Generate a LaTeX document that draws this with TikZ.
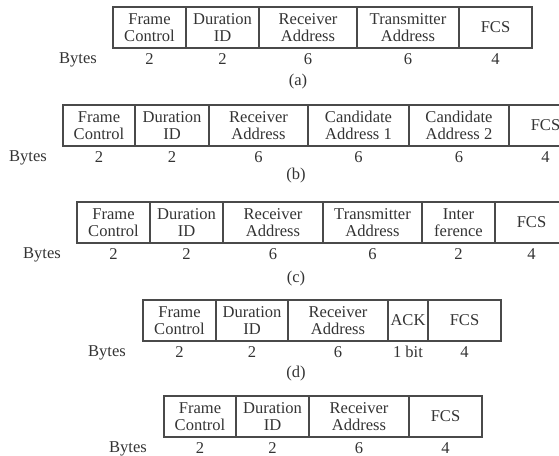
\documentclass[tikz,border=0pt]{standalone}
\usepackage{fontspec}
\setmainfont{Liberation Serif}
\usetikzlibrary{positioning}
\definecolor{framegray}{HTML}{4A4A4A}
\definecolor{inkgray}{HTML}{333333}

\begin{document}
\begin{tikzpicture}[x=0.75pt, y=-0.75pt,
	field/.style={draw=framegray, line width=1pt, rectangle, inner sep=0pt,
	              align=center, minimum height=30.75pt, text=inkgray,
	              font=\fontsize{12.4}{12.75}\selectfont},
	lbl/.style={text=inkgray, inner sep=0pt, anchor=base,
	            font=\fontsize{12.4}{14}\selectfont},
	capt/.style={text=inkgray, inner sep=0pt, font=\fontsize{12.4}{14}\selectfont}]
	\useasboundingbox (0,0) rectangle (559,455);
	\clip (0,0) rectangle (559,455);

	% (a)
	\foreach \l/\r/\txt/\b [count=\i] in {113/186/{Frame\\Control}/2, 186/259/{Duration\\ID}/2,
	        259/357/{Receiver\\Address}/6, 357/459/{Transmitter\\Address}/6, 459/532/FCS/4}
	{
		\pgfmathsetmacro\w{(\r-\l)*0.75}
		\node[field, minimum width=\w pt] (a\i) at ({(\l+\r)/2},27.5) {\txt};
		\node[lbl] (a\i b) at ([yshift=-11.6pt]a\i.south) {\b};
	}
	\node[lbl] (bytesa) at (78,63.5) {Bytes};
	\node[capt] (capa) at (298,82) {(a)};

	% (b)
	\foreach \l/\r/\txt/\b [count=\i] in {63/135/{Frame\\Control}/2, 135/209/{Duration\\ID}/2,
	        209/308/{Receiver\\Address}/6, 308/409/{Candidate\\Address 1}/6,
	        409/509/{Candidate\\Address 2}/6, 509/582/FCS/4}
	{
		\pgfmathsetmacro\w{(\r-\l)*0.75}
		\node[field, minimum width=\w pt] (b\i) at ({(\l+\r)/2},125.5) {\txt};
		\node[lbl] (b\i b) at ([yshift=-11.6pt]b\i.south) {\b};
	}
	\node[lbl] (bytesb) at (28,161.5) {Bytes};
	\node[capt] (capb) at (296,176) {(b)};

	% (c)
	\foreach \l/\r/\txt/\b [count=\i] in {77/150/{Frame\\Control}/2, 150/223/{Duration\\ID}/2,
	        223/323/{Receiver\\Address}/6, 323/422/{Transmitter\\Address}/6,
	        422/495/{Inter\\ference}/2, 495/568/FCS/4}
	{
		\pgfmathsetmacro\w{(\r-\l)*0.75}
		\node[field, minimum width=\w pt] (c\i) at ({(\l+\r)/2},222.5) {\txt};
		\node[lbl] (c\i b) at ([yshift=-11.6pt]c\i.south) {\b};
	}
	\node[lbl] (bytesc) at (42,258.5) {Bytes};
	\node[capt] (capc) at (296,279) {(c)};

	% (d)
	\foreach \l/\r/\txt/\b [count=\i] in {143/216/{Frame\\Control}/2, 216/288/{Duration\\ID}/2,
	        288/388/{Receiver\\Address}/6, 388/428/ACK/1 bit, 428/501/FCS/4}
	{
		\pgfmathsetmacro\w{(\r-\l)*0.75}
		\node[field, minimum width=\w pt] (d\i) at ({(\l+\r)/2},320.5) {\txt};
		\node[lbl] (d\i b) at ([yshift=-11.6pt]d\i.south) {\b};
	}
	\node[lbl] (bytesd) at (107,356.5) {Bytes};
	\node[capt] (capd) at (296,374) {(d)};

	% (e)
	\foreach \l/\r/\txt/\b [count=\i] in {164/236/{Frame\\Control}/2, 236/309/{Duration\\ID}/2,
	        309/409/{Receiver\\Address}/6, 409/482/FCS/4}
	{
		\pgfmathsetmacro\w{(\r-\l)*0.75}
		\node[field, minimum width=\w pt] (e\i) at ({(\l+\r)/2},416.5) {\txt};
		\node[lbl] (e\i b) at ([yshift=-11.6pt]e\i.south) {\b};
	}
	\node[lbl] (bytese) at (128,452.5) {Bytes};
\end{tikzpicture}
\end{document}
